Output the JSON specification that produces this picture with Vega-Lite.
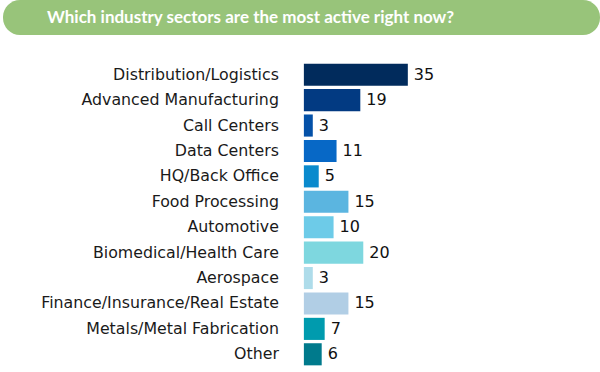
{
  "$schema": "https://vega.github.io/schema/vega-lite/v6.json",
  "padding": {"left": 3, "top": 0, "right": 0, "bottom": 0},
  "background": "white",
  "spacing": 27,
  "config": {"view": {"stroke": null}},
  "datasets": {
    "sectors": [
      {"sector": "Distribution/Logistics", "count": 35},
      {"sector": "Advanced Manufacturing", "count": 19},
      {"sector": "Call Centers", "count": 3},
      {"sector": "Data Centers", "count": 11},
      {"sector": "HQ/Back Office", "count": 5},
      {"sector": "Food Processing", "count": 15},
      {"sector": "Automotive", "count": 10},
      {"sector": "Biomedical/Health Care", "count": 20},
      {"sector": "Aerospace", "count": 3},
      {"sector": "Finance/Insurance/Real Estate", "count": 15},
      {"sector": "Metals/Metal Fabrication", "count": 7},
      {"sector": "Other", "count": 6}
    ],
    "heading": [{"q": "Which industry sectors are the most active right now?", "pos": 44}]
  },
  "vconcat": [
    {
      "width": 597,
      "height": 35,
      "view": {"fill": "#98C47A", "cornerRadius": 17, "stroke": null},
      "data": {"name": "heading"},
      "mark": {"type": "text", "align": "left", "baseline": "middle", "font": "Lato", "fontWeight": "bold", "fontSize": 17, "color": "white"},
      "encoding": {
        "x": {"field": "pos", "type": "quantitative", "scale": {"domain": [0, 597]}, "axis": null},
        "y": {"datum": 0.5, "type": "quantitative", "scale": {"domain": [0, 1]}, "axis": null},
        "text": {"field": "q"}
      }
    },
    {
      "width": 597,
      "height": 305,
      "data": {"name": "sectors"},
      "encoding": {
        "y": {
          "field": "sector", "type": "nominal",
          "sort": ["Distribution/Logistics", "Advanced Manufacturing", "Call Centers", "Data Centers", "HQ/Back Office", "Food Processing", "Automotive", "Biomedical/Health Care", "Aerospace", "Finance/Insurance/Real Estate", "Metals/Metal Fabrication", "Other"],
          "scale": {"paddingInner": 0.13, "paddingOuter": 0.065},
          "axis": null
        }
      },
      "layer": [
        {
          "mark": {"type": "bar"},
          "encoding": {
            "x": {"field": "count", "type": "quantitative", "scale": {"domain": [-101.3, 99.7], "nice": false, "zero": false}, "axis": null},
            "color": {
              "field": "sector", "type": "nominal", "legend": null,
              "scale": {
                "domain": ["Distribution/Logistics", "Advanced Manufacturing", "Call Centers", "Data Centers", "HQ/Back Office", "Food Processing", "Automotive", "Biomedical/Health Care", "Aerospace", "Finance/Insurance/Real Estate", "Metals/Metal Fabrication", "Other"],
                "range": ["#012B5C", "#023A82", "#0451A8", "#0768C6", "#0A8ACD", "#5BB5E0", "#6DCBE8", "#7ED7DF", "#AEDCEA", "#B1CEE5", "#009BAE", "#007A8C"]
              }
            }
          }
        },
        {
          "mark": {"type": "text", "align": "left", "baseline": "middle", "dx": 6, "font": "DejaVu Sans", "fontSize": 16, "color": "#111"},
          "encoding": {
            "x": {"field": "count", "type": "quantitative"},
            "text": {"field": "count", "type": "quantitative"}
          }
        },
        {
          "mark": {"type": "text", "align": "right", "baseline": "middle", "font": "DejaVu Sans", "fontSize": 15.8, "color": "#1a1a1a"},
          "encoding": {
            "x": {"datum": -8.4, "type": "quantitative"},
            "text": {"field": "sector", "type": "nominal"}
          }
        }
      ]
    }
  ]
}
